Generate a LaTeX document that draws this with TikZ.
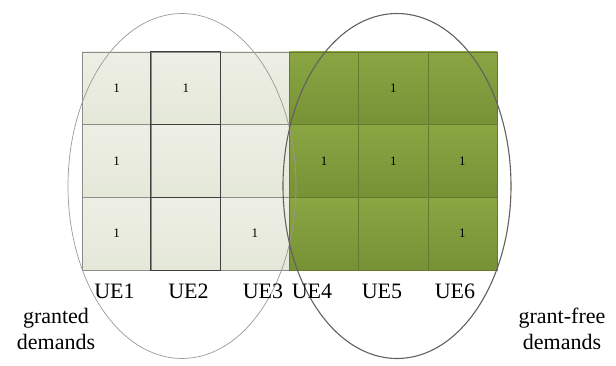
\documentclass[tikz,border=0pt]{standalone}
\usepackage{fontspec}
\setmainfont{Liberation Serif}
\definecolor{lightcelltop}{HTML}{EDEFE5}
\definecolor{lightcellbot}{HTML}{E4E8D8}
\definecolor{darktop}{HTML}{8AA542}
\definecolor{darkbot}{HTML}{779236}
\definecolor{darkedge}{HTML}{667A2E}
\begin{document}
\begin{tikzpicture}[x=1pt,y=-1pt,
  cellbase/.style={minimum width=69.17pt,minimum height=72.67pt,inner sep=0pt,font=\fontsize{13}{13}\selectfont},
  lightbox/.style={cellbase,top color=lightcelltop,bottom color=lightcellbot,draw=black!45,line width=0.6pt},
  darkbox/.style={cellbase,top color=darktop,bottom color=darkbot,draw=darkedge,line width=0.5pt},
  uelabel/.style={font=\fontsize{22}{22}\selectfont,inner sep=0pt,anchor=base},
  sidelabel/.style={font=\fontsize{22}{26}\selectfont,inner sep=0pt,align=center},
  leftring/.style={draw=black!40,line width=0.7pt},
  rightring/.style={draw=black!62,line width=1.1pt}]
\useasboundingbox (0,0) rectangle (616,365);
% light cells
\node[lightbox] (c11) at (116.58,88.33) {1};
\node[lightbox] (c12) at (116.58,161.00) {1};
\node[lightbox] (c13) at (116.58,233.67) {1};
\node[lightbox] (c21) at (185.75,88.33) {1};
\node[lightbox] (c22) at (185.75,161.00) {};
\node[lightbox] (c23) at (185.75,233.67) {};
\node[lightbox] (c31) at (254.92,88.33) {};
\node[lightbox] (c32) at (254.92,161.00) {};
\node[lightbox] (c33) at (254.92,233.67) {1};
% darker frame of UE2 column
\draw[black!75,line width=1pt] (c21.north west) rectangle (c23.south east);
\draw[black!75,line width=1pt] (c22.north west) -- (c22.north east);
\draw[black!75,line width=1pt] (c22.south west) -- (c22.south east);
% dark cells
\node[darkbox] (c41) at (324.08,88.33) {};
\node[darkbox] (c42) at (324.08,161.00) {1};
\node[darkbox] (c43) at (324.08,233.67) {};
\node[darkbox] (c51) at (393.25,88.33) {1};
\node[darkbox] (c52) at (393.25,161.00) {1};
\node[darkbox] (c53) at (393.25,233.67) {};
\node[darkbox] (c61) at (462.42,88.33) {};
\node[darkbox] (c62) at (462.42,161.00) {1};
\node[darkbox] (c63) at (462.42,233.67) {1};
% ellipses
\draw[leftring] (182,186) ellipse [x radius=114pt, y radius=172.5pt];
\draw[rightring] (397,186) ellipse [x radius=114pt, y radius=172.5pt];
% labels
\node[uelabel] (ue1) at (114.5,298) {UE1};
\node[uelabel] (ue2) at (188.5,298) {UE2};
\node[uelabel] (ue3) at (263,298) {UE3};
\node[uelabel] (ue4) at (312,298) {UE4};
\node[uelabel] (ue5) at (382,298) {UE5};
\node[uelabel] (ue6) at (455,298) {UE6};
\node[sidelabel] (gd) at (56,329) {granted\\demands};
\node[sidelabel] (gf) at (562,329) {grant-free\\demands};
\end{tikzpicture}
\end{document}
